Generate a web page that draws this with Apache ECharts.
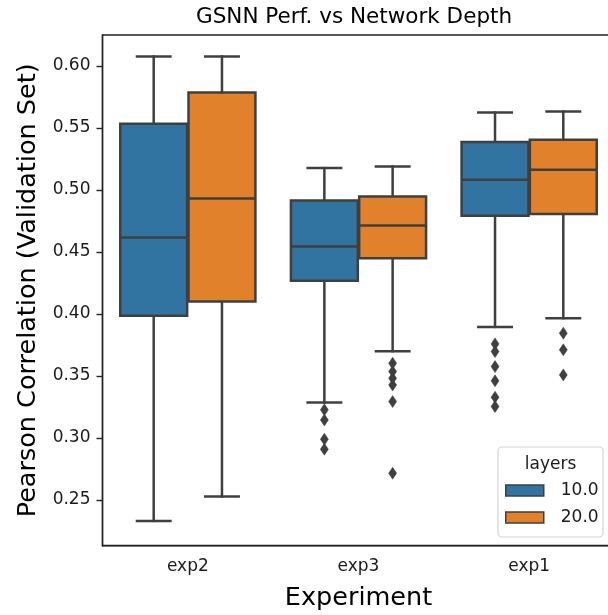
<!DOCTYPE html>
<html>
<head>
<meta charset="utf-8">
<title>GSNN Perf. vs Network Depth</title>
<script src="https://cdn.jsdelivr.net/npm/echarts@6/dist/echarts.min.js"></script>
<style>
  html, body { margin: 0; padding: 0; background: #ffffff; }
  #chart { width: 608px; height: 615px; }
</style>
</head>
<body>
<div id="chart"></div>
<script>
// Experiments on the x axis, hue = number of layers
const categories = ['exp2', 'exp3', 'exp1'];
const layerNames = ['10.0', '20.0'];

// Box summaries per experiment: [whisker low, Q1, median, Q3, whisker high]
const box10 = [
  [0.2331, 0.3984, 0.4615, 0.5532, 0.6075],
  [0.3285, 0.4266, 0.4543, 0.4914, 0.5175],
  [0.3895, 0.4790, 0.5081, 0.5385, 0.5623]
];
const box20 = [
  [0.2527, 0.4099, 0.4930, 0.5785, 0.6075],
  [0.3699, 0.4449, 0.4712, 0.4946, 0.5188],
  [0.3965, 0.4806, 0.5161, 0.5403, 0.5631]
];

// Points beyond the whiskers, per experiment
const outliers10 = [
  [],
  [0.3226, 0.3145, 0.2989, 0.2909],
  [0.3758, 0.3696, 0.3575, 0.3460, 0.3328, 0.3253]
];
const outliers20 = [
  [],
  [0.3602, 0.3535, 0.3481, 0.3427, 0.3293, 0.2715],
  [0.3844, 0.3710, 0.3508]
];

const yTicks = [0.25, 0.30, 0.35, 0.40, 0.45, 0.50, 0.55, 0.60];

const FONT = "'DejaVu Sans', sans-serif";
const EDGE = '#3f3f3f';
const COLORS = ['#3274a1', '#e1812c'];
const BOX_FRAC = 0.392;   // box width as a fraction of the category band
const HUE_OFFSET = 0.2;   // centre offset of each hue inside the band

function boxRows(summary) {
  return summary.map((s, i) => [i].concat(s));
}
function outlierRows(lists) {
  const rows = [];
  lists.forEach((vals, i) => vals.forEach(v => rows.push([i, v])));
  return rows;
}

function makeBoxRenderer(offset, fill) {
  return function (params, api) {
    const c = api.value(0);
    const band = api.size([1, 0])[0];
    const w = band * BOX_FRAC;
    const cx = api.coord([c, api.value(3)])[0] + offset * band;
    const yLow = api.coord([c, api.value(1)])[1];
    const yQ1 = api.coord([c, api.value(2)])[1];
    const yMed = api.coord([c, api.value(3)])[1];
    const yQ3 = api.coord([c, api.value(4)])[1];
    const yHigh = api.coord([c, api.value(5)])[1];
    const lineStyle = { stroke: EDGE, lineWidth: 2.5, lineCap: 'square' };
    const capHalf = w / 4;
    return {
      type: 'group',
      children: [
        { type: 'line', shape: { x1: cx, y1: yQ3, x2: cx, y2: yHigh }, style: lineStyle },
        { type: 'line', shape: { x1: cx, y1: yQ1, x2: cx, y2: yLow }, style: lineStyle },
        { type: 'line', shape: { x1: cx - capHalf, y1: yHigh, x2: cx + capHalf, y2: yHigh }, style: lineStyle },
        { type: 'line', shape: { x1: cx - capHalf, y1: yLow, x2: cx + capHalf, y2: yLow }, style: lineStyle },
        {
          type: 'rect',
          shape: { x: cx - w / 2, y: yQ3, width: w, height: yQ1 - yQ3 },
          style: { fill: fill, stroke: EDGE, lineWidth: 2.5 }
        },
        { type: 'line', shape: { x1: cx - w / 2, y1: yMed, x2: cx + w / 2, y2: yMed }, style: { stroke: EDGE, lineWidth: 2.5 } }
      ]
    };
  };
}

function makeOutlierRenderer(offset) {
  return function (params, api) {
    const c = api.value(0);
    const band = api.size([1, 0])[0];
    const p = api.coord([c, api.value(1)]);
    const x = p[0] + offset * band;
    const y = p[1];
    const hw = 4, hh = 6;
    return {
      type: 'polygon',
      shape: { points: [[x, y - hh], [x + hw, y], [x, y + hh], [x - hw, y]] },
      style: { fill: EDGE, stroke: EDGE, lineWidth: 0.5 }
    };
  };
}

const chart = echarts.init(document.getElementById('chart'), null, { renderer: 'canvas' });

const seriesList = [];
[[box10, outliers10], [box20, outliers20]].forEach((pair, k) => {
  const offset = k === 0 ? -HUE_OFFSET : HUE_OFFSET;
  seriesList.push({
    name: layerNames[k],
    type: 'custom',
    renderItem: makeBoxRenderer(offset, COLORS[k]),
    encode: { x: 0, y: [1, 2, 3, 4, 5] },
    itemStyle: { color: COLORS[k], borderColor: EDGE, borderWidth: 1.5 },
    data: boxRows(pair[0]),
    clip: false,
    z: 2
  });
  seriesList.push({
    name: layerNames[k],
    type: 'custom',
    renderItem: makeOutlierRenderer(offset),
    encode: { x: 0, y: 1 },
    itemStyle: { color: COLORS[k] },
    data: outlierRows(pair[1]),
    clip: false,
    z: 3
  });
});

chart.setOption({
  animation: false,
  backgroundColor: '#ffffff',
  textStyle: { fontFamily: FONT },
  title: {
    text: 'GSNN Perf. vs Network Depth',
    left: 196,
    top: 6,
    padding: 0,
    textStyle: { fontFamily: FONT, fontSize: 21.5, fontWeight: 'normal', color: '#000' }
  },
  grid: {
    left: 102.5,
    right: -6.5,
    top: 35,
    bottom: 69.3,
    containLabel: false,
    outerBoundsMode: 'none',
    show: true,
    borderColor: '#222',
    borderWidth: 1.4,
    backgroundColor: 'transparent'
  },
  xAxis: {
    type: 'category',
    data: categories,
    name: 'Experiment',
    nameLocation: 'middle',
    nameGap: 40,
    nameTextStyle: { fontFamily: FONT, fontSize: 25.5, color: '#000' },
    axisLine: { lineStyle: { color: '#222', width: 1.4 } },
    axisTick: { alignWithLabel: true, length: 6, lineStyle: { color: '#222', width: 1.4 } },
    axisLabel: { margin: 12, fontFamily: FONT, fontSize: 17, color: '#1a1a1a' },
    splitLine: { show: false }
  },
  yAxis: {
    type: 'value',
    min: 0.2131,
    max: 0.6248,
    name: 'Pearson Correlation (Validation Set)',
    nameLocation: 'middle',
    nameGap: 57,
    nameTextStyle: { fontFamily: FONT, fontSize: 25.5, color: '#000' },
    axisLine: { show: true, lineStyle: { color: '#222', width: 1.4 } },
    axisTick: { show: true, length: 6, customValues: yTicks, lineStyle: { color: '#222', width: 1.4 } },
    axisLabel: {
      margin: 12,
      customValues: yTicks,
      fontFamily: FONT, fontSize: 17, color: '#1a1a1a',
      formatter: v => v.toFixed(2)
    },
    splitLine: { show: false }
  },
  legend: {
    orient: 'vertical',
    left: 505,
    top: 482,
    padding: 0,
    itemGap: 10,
    itemWidth: 38,
    itemHeight: 11,
    selectedMode: false,
    z: 5,
    textStyle: { fontFamily: FONT, fontSize: 17, color: '#1a1a1a', padding: [0, 0, 0, 12] },
    data: layerNames.map((n, k) => ({
      name: n,
      icon: 'rect',
      itemStyle: { color: COLORS[k], borderColor: EDGE, borderWidth: 1.5 }
    }))
  },
  graphic: [
    {
      type: 'rect',
      z: 4,
      shape: { x: 498, y: 447, width: 105, height: 90, r: 4 },
      style: { fill: 'rgba(255,255,255,0.85)', stroke: '#d4d4d4', lineWidth: 1.2 }
    },
    {
      type: 'text',
      z: 5,
      x: 550.5,
      y: 465,
      style: { text: 'layers', fontFamily: FONT, fontSize: 17, fill: '#1a1a1a', align: 'center', verticalAlign: 'middle' }
    }
  ],
  series: seriesList
});
</script>
</body>
</html>
